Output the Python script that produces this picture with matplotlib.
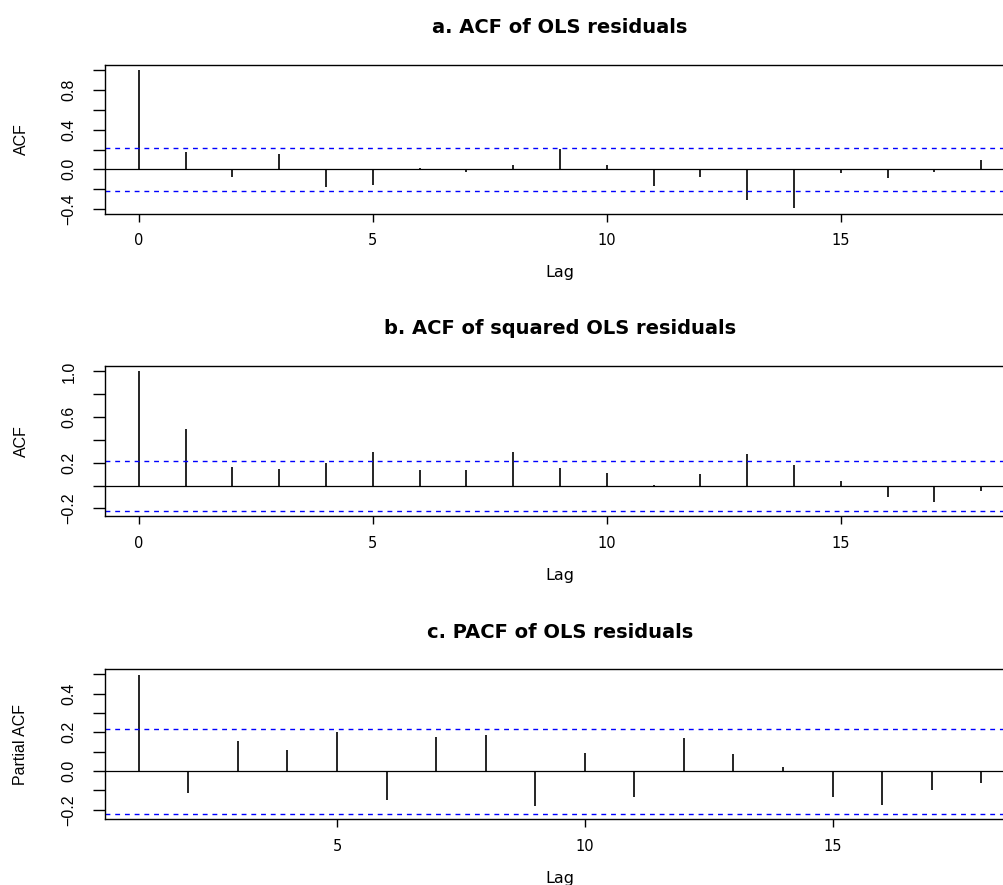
import matplotlib
matplotlib.use("Agg")
import matplotlib.pyplot as plt
import numpy as np

# values
lags_acf = list(range(0, 19))
acf_resid = [1.0, 0.17, -0.08, 0.155, -0.175, -0.155, 0.015, -0.03, 0.04, 0.205,
             0.045, -0.17, -0.075, -0.305, -0.39, -0.035, -0.085, -0.025, 0.09]
acf_sq = [1.0, 0.493, 0.163, 0.149, 0.2, 0.295, 0.134, 0.134, 0.295, 0.158,
          0.108, 0.003, 0.105, 0.28, 0.184, 0.041, -0.102, -0.143, -0.044]
lags_pacf = list(range(1, 19))
pacf_resid = [0.498, -0.114, 0.153, 0.107, 0.202, -0.148, 0.176, 0.188, -0.178,
              0.093, -0.136, 0.171, 0.09, 0.022, -0.133, -0.174, -0.097, -0.062]
conf = 0.22

titles = ["a. ACF of OLS residuals", "b. ACF of squared OLS residuals",
          "c. PACF of OLS residuals"]
ylabels = ["ACF", "ACF", "Partial ACF"]
xticks = [[0, 5, 10, 15], [0, 5, 10, 15], [5, 10, 15]]
yticks_major = [[-0.4, 0.0, 0.4, 0.8], [-0.2, 0.2, 0.6, 1.0], [-0.2, 0.0, 0.2, 0.4]]
yticks_minor = [[-0.2, 0.2, 0.6, 1.0], [0.0, 0.4, 0.8], [-0.1, 0.1, 0.3, 0.5]]

W, H = 1004, 885
fig = plt.figure(figsize=(W / 100, H / 100), dpi=100)
fig.patch.set_facecolor("white")

wide_font = ["DejaVu Sans"]
narrow_font = ["Liberation Sans Narrow", "Liberation Sans", "DejaVu Sans"]

panels = [(lags_acf, acf_resid, 64.7, 213.5),
          (lags_acf, acf_sq, 365.9, 516.3),
          (lags_pacf, pacf_resid, 669.1, 819.3)]

left_px, right_px = 105, 1015


def ylab(t):
    s = "%.1f" % t
    return s.replace("-", "\u2212")


for i, (lags, vals, top, bot) in enumerate(panels):
    ax = fig.add_axes([left_px / W, 1 - bot / H, (right_px - left_px) / W, (bot - top) / H])
    ax.vlines(lags, 0, vals, color="black", linewidth=1.2)
    ax.axhline(0, color="black", linewidth=0.9)
    for c in (conf, -conf):
        ax.axhline(c, color="blue", linewidth=1.0, linestyle=(0, (3.5, 3.5)))
    # R style axis range: data range + 4%
    lo = min(min(vals), -conf)
    hi = max(max(vals), conf)
    ext = (hi - lo) * 0.04
    ax.set_ylim(lo - ext, hi + ext)
    xlo, xhi = lags[0], lags[-1]
    xext = (xhi - xlo) * 0.04
    ax.set_xlim(xlo - xext, xhi + xext)

    ax.set_xticks(xticks[i])
    ax.set_xticklabels([str(t) for t in xticks[i]], fontfamily=wide_font, fontsize=10.5)
    ax.set_yticks(yticks_major[i])
    ax.set_yticklabels([ylab(t) for t in yticks_major[i]], fontfamily=narrow_font,
                       fontsize=11.5, rotation=90, va="center")
    ax.set_yticks(yticks_minor[i], minor=True)
    ax.tick_params(axis="x", which="both", direction="out", length=6, width=1.0, pad=8)
    ax.tick_params(axis="y", which="both", direction="out", length=8.6, width=1.0, pad=12)
    for s in ax.spines.values():
        s.set_linewidth(1.0)

    fig.text(560 / W, 1 - (top - 37) / H, titles[i], ha="center", va="center",
             fontsize=14, fontweight="bold", fontfamily=wide_font)
    fig.text(560 / W, 1 - (bot + 59) / H, "Lag", ha="center", va="center",
             fontsize=11.5, fontfamily=wide_font)
    fig.text(21 / W, 1 - ((top + bot) / 2) / H, ylabels[i], ha="center", va="center",
             rotation=90, fontsize=11.5, fontfamily=narrow_font)

fig.savefig("out.png", dpi=100)
